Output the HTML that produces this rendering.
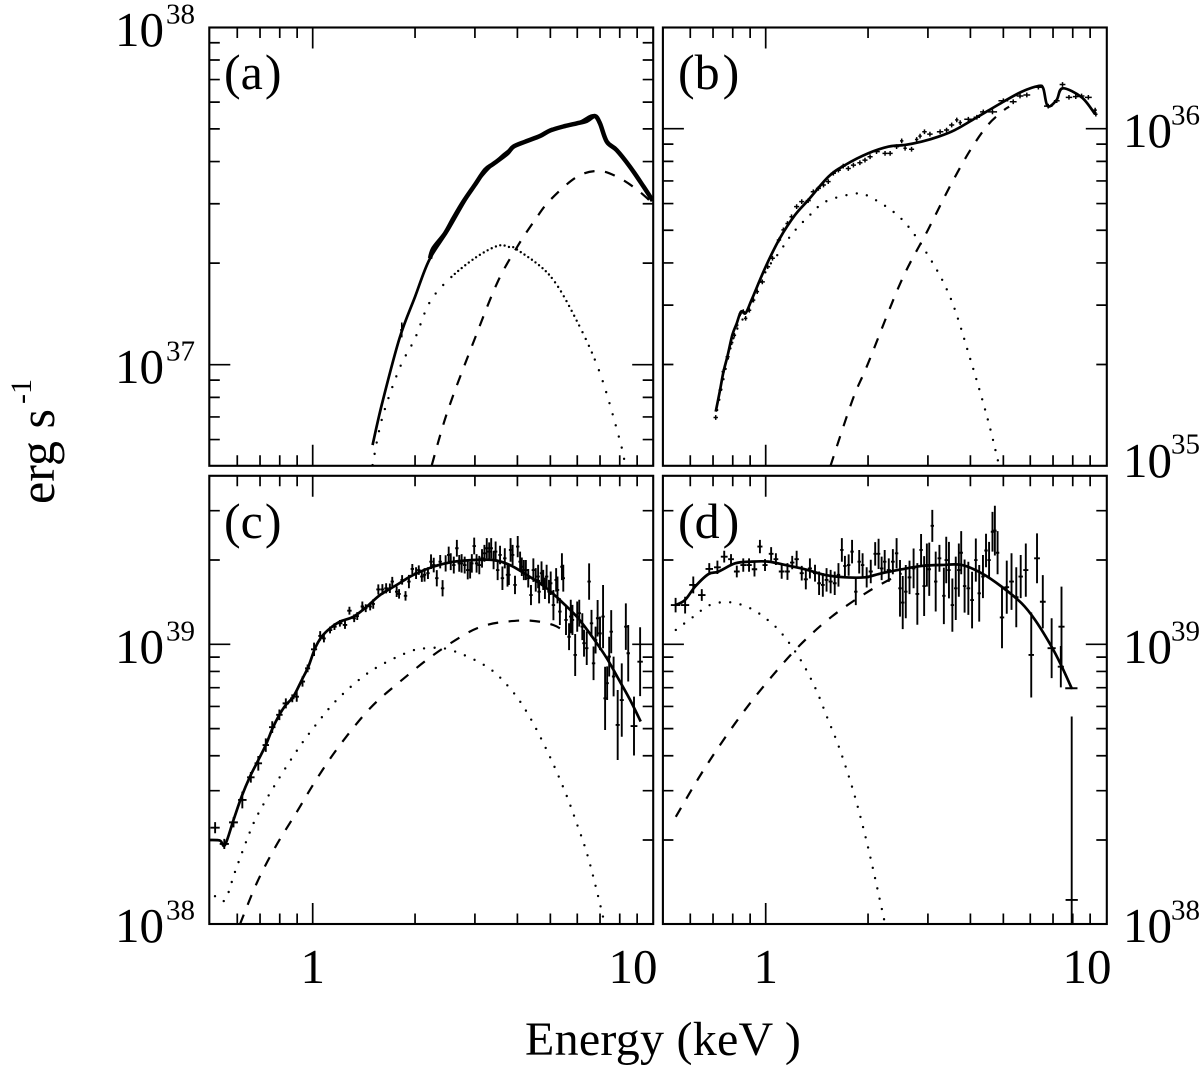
<!DOCTYPE html>
<html lang="en">
<head>
<meta charset="utf-8">
<title>X-ray spectra panels</title>
<style>
html,body{margin:0;padding:0;background:#fff}
svg{display:block}
text{font-family:"Liberation Serif","Times New Roman",serif;fill:#000}
.b{font-size:49px}
.e{font-size:29px}
.p{font-size:50px}
</style>
</head>
<body>
<svg id="chart" width="1200" height="1066" viewBox="0 0 1200 1066" xmlns="http://www.w3.org/2000/svg">
<rect x="0" y="0" width="1200" height="1066" fill="#fff"/>
<g id="plots"></g>

<g>
<g><text class="b" x="115" y="46">10</text><text class="e" x="166" y="23.5">38</text></g>
<g><text class="b" x="115" y="383">10</text><text class="e" x="166" y="360.5">37</text></g>
<g><text class="b" x="115" y="663">10</text><text class="e" x="166" y="640.5">39</text></g>
<g><text class="b" x="115" y="942">10</text><text class="e" x="166" y="919.5">38</text></g>
</g>
<g>
<g><text class="b" x="1123" y="147">10</text><text class="e" x="1171" y="124.5">36</text></g>
<g><text class="b" x="1123" y="477">10</text><text class="e" x="1171" y="453.5">35</text></g>
<g><text class="b" x="1123" y="663">10</text><text class="e" x="1171" y="640.5">39</text></g>
<g><text class="b" x="1123" y="942">10</text><text class="e" x="1171" y="919.5">38</text></g>
</g>
<g>
<text class="b" x="312.7" y="983" text-anchor="middle">1</text>
<text class="b" x="633" y="983" text-anchor="middle">10</text>
<text class="b" x="765.7" y="983" text-anchor="middle">1</text>
<text class="b" x="1087" y="983" text-anchor="middle">10</text>
</g>
<text x="525" y="1055" style="font-size:48px;letter-spacing:0.25px">Energy (keV )</text>
<g>
<text transform="translate(54 504) rotate(-90)" style="font-size:50px">erg s</text>
<text transform="translate(31 404) rotate(-90)" style="font-size:30px">-1</text>
</g>
<text class="p" x="224" y="89">(a<tspan dx="2">)</tspan></text>
<text class="p" x="678" y="89">(b<tspan dx="3">)</tspan></text>
<text class="p" x="224" y="538">(c<tspan dx="2">)</tspan></text>
<text class="p" x="678" y="538">(d<tspan dx="3">)</tspan></text>
</svg>

<script>
// ---------- shared tick values ----------
const xMinorTicks = [0.6,0.7,0.8,0.9,2,3,4,5,6,7,8,9];
const xMajorTicks = [1];
const aYTicks = [0.6,0.7,0.8,0.9,2,3,4,5,6,7,8,9];
const aYMajor = [1];
const bYTicks = [0.2,0.3,0.4,0.5,0.6,0.7,0.8,0.9];
const bYMajor = [1];
const cYTicks = [0.2,0.3,0.4,0.5,0.6,0.7,0.8,0.9,2,3];
const cYMajor = [1];

// ---------- panel (a): luminosity in units of 1e37 ----------
const aSolidE = [1.5,1.6,1.8,2,2.2,2.5,3,3.5,4,4.5,5,6,6.8,7.3,8,9,10];
const aSolidL = [0.578,0.768,1.197,1.59,2.04,2.5,3.41,4.05,4.49,4.70,4.94,5.2,5.46,4.60,4.24,3.6,3.06];
const aDotE = [1.5,1.6,1.8,2,2.2,2.5,3,3.5,3.8,4,5,6,7,8,8.3];
const aDotL = [0.504,0.693,0.975,1.197,1.52,1.78,2.07,2.25,2.23,2.19,1.83,1.34,0.943,0.598,0.504];
const aDotGapEdges = [2.5,5,6,6.7];
const aDashE = [2.24,2.5,3,3.5,4,4.5,5,6,7,8,9,10];
const aDashL = [0.504,0.734,1.197,1.76,2.24,2.68,3.08,3.61,3.75,3.57,3.30,3.01];
const aBandLogE = [0.345,0.355,0.389,0.414,0.443,0.477,0.507,0.531,0.571,0.590,0.625,0.669,0.698,0.737,0.776,0.806,0.830,0.845,0.865,0.894,0.933,0.973,1.0];
const aBandLogL = [0.315,0.345,0.389,0.434,0.483,0.533,0.577,0.595,0.625,0.646,0.661,0.678,0.694,0.706,0.715,0.723,0.737,0.715,0.661,0.636,0.587,0.528,0.486];
const aBarLogE = [0.262];
const aBarLogL = [0.103];
const aBarErr = [0.022];
const aBarBin = [0.005];

// ---------- panel (b): luminosity in units of 1e36 ----------
const bSolidE = [0.713,0.734,0.751,0.773,0.798,0.822,0.846,0.873,0.909,1,1.10,1.22,1.335,1.53,1.71,2,2.3,2.57,2.87,3.22,3.6,4.13,5,5.66,6.33,6.55,6.75,7.17,7.47,8.5,9.3];
const bSolidL = [0.145,0.168,0.190,0.213,0.245,0.265,0.287,0.284,0.311,0.390,0.473,0.555,0.615,0.721,0.780,0.845,0.885,0.895,0.915,0.947,0.991,1.073,1.202,1.287,1.338,1.317,1.167,1.216,1.317,1.239,1.105];
const bDotE = [0.72,0.8,0.9,1,1.1,1.2,1.35,1.5,1.8,2,2.5,3,3.5,4,4.5,4.86];
const bDotL = [0.1466,0.236,0.297,0.377,0.432,0.490,0.555,0.608,0.640,0.632,0.542,0.422,0.314,0.207,0.1375,0.1002];
const bDashE = [1.55,1.8,2,2.5,3,3.5,4,4.5,5,5.2];
const bDashL = [0.1,0.157,0.2015,0.352,0.501,0.681,0.865,1.025,1.131,1.162];
const bLogE = [-.147,-.134,-.125,-.112,-.100,-.092,-.085,-.075,-.066,-.059,-.048,-.036,-.025,-.010,.006,.020,.039,.052,.064,.076,.091,.106,.125,.140,.155,.170,.184,.199,.214,.228,.243,.258,.277,.292,.307,.326,.351,.366,.385,.400,.410,.429,.444,.454,.467,.483,.513,.532,.547,.562,.572,.596,.621,.640,.667,.699,.728,.748,.768,.802,.831,.856,.873,.892,.912,.929,.949,.969,.971];
const bLogL = [-.856,-.775,-.720,-.676,-.634,-.612,-.582,-.549,-.542,-.562,-.538,-.508,-.483,-.454,-.409,-.384,-.330,-.300,-.281,-.261,-.231,-.216,-.213,-.187,-.177,-.167,-.157,-.132,-.123,-.111,-.118,-.108,-.101,-.093,-.083,-.068,-.073,-.073,-.053,-.036,-.058,-.061,-.032,-.022,-.009,-.016,-.009,-.004,.011,.026,.018,.028,.034,.050,.050,.083,.080,.097,.100,.123,.067,.083,.131,.093,.095,.097,.093,.055,.043];
const bErrDex = 0.007;

// ---------- panel (c): luminosity in units of 1e39 ----------
const cSolidE = [0.499,0.534,0.552,0.585,0.618,0.654,0.692,0.728,0.762,0.798,0.833,0.877,0.929,0.971,1.016,1.063,1.124,1.203,1.318,1.442,1.578,1.767,1.977,2.265,2.59,2.97,3.40,3.80,4.26,4.88,5.46,5.98,6.69,7.33,8.01,8.58,9.22];
const cSolidL = [0.200,0.199,0.192,0.236,0.286,0.337,0.386,0.437,0.501,0.560,0.607,0.650,0.746,0.832,0.968,1.065,1.14,1.205,1.255,1.363,1.50,1.63,1.77,1.894,1.97,2.0,2.0,1.92,1.77,1.585,1.40,1.255,1.05,0.891,0.736,0.633,0.530];
const cDotE = [0.516,0.552,0.591,0.640,0.684,0.775,0.908,1.03,1.19,1.475,1.89,2.16,2.54,3.25,3.80,4.31,4.93,5.52,5.98,6.47,7.11,7.19];
const cDotL = [0.126,0.122,0.154,0.200,0.242,0.315,0.425,0.522,0.641,0.799,0.933,0.968,0.955,0.832,0.697,0.560,0.408,0.298,0.229,0.172,0.109,0.1];
const cDashE = [0.611,0.684,0.775,0.898,1.03,1.203,1.475,1.807,2.265,2.84,3.25,3.72,4.36,5.10,5.71];
const cDashL = [0.1,0.140,0.188,0.252,0.332,0.437,0.591,0.736,0.916,1.095,1.172,1.205,1.215,1.172,1.08];
const cLogE = [-.287,-.260,-.233,-.207,-.182,-.160,-.138,-.119,-.098,-.079,-.060,-.047,-.030,-.015,.004,.022,.033,.051,.064,.080,.095,.108,.122,.131,.146,.156,.169,.178,.193,.205,.216,.227,.234,.247,.254,.263,.273,.283,.293,.304,.312,.321,.329,.339,.348,.356,.365,.375,.382,.391,.400,.406,.415,.424,.431,.438,.447,.456,.463,.468,.475,.482,.490,.498,.505,.512,.519,.525,.532,.538,.544,.551,.558,.565,.573,.577,.582,.588,.595,.603,.610,.615,.621,.627,.634,.642,.649,.656,.663,.666,.673,.678,.683,.688,.695,.700,.708,.716,.720,.727,.733,.737,.745,.754,.759,.764,.772,.778,.784,.793,.798,.806,.813,.820,.826,.832,.838,.845,.854,.860,.866,.872,.878,.885,.897,.909,.921,.928];
const cLogL = [-.655,-.713,-.636,-.556,-.475,-.425,-.360,-.296,-.252,-.211,-.193,-.187,-.133,-.086,-.018,.030,.021,.051,.063,.075,.069,.120,.093,.101,.135,.129,.135,.144,.196,.196,.200,.200,.224,.188,.180,.230,.173,.224,.269,.254,.265,.242,.248,.254,.295,.283,.236,.295,.200,.289,.319,.295,.283,.343,.289,.289,.283,.265,.265,.289,.351,.289,.283,.307,.325,.343,.331,.343,.301,.331,.265,.319,.236,.307,.248,.248,.337,.319,.212,.349,.295,.277,.265,.265,.236,.176,.265,.230,.242,.188,.254,.230,.200,.242,.188,.218,.140,.230,.194,.117,.277,.236,.087,.027,.099,.087,-.038,.099,.111,.063,.004,-.014,.224,.075,-.068,.015,.093,.039,.099,-.193,-.139,-.044,.045,-.115,-.288,-.199,.063,-.032];
const cErr = [.020,.018,.018,.030,.019,.026,.024,.021,.019,.018,.014,.018,.018,.014,.024,.017,.014,.012,.012,.012,.014,.014,.014,.014,.018,.014,.014,.017,.018,.019,.018,.017,.017,.019,.017,.017,.017,.024,.018,.021,.017,.019,.024,.021,.026,.026,.029,.024,.029,.029,.030,.030,.030,.030,.030,.033,.030,.033,.030,.033,.030,.033,.033,.033,.030,.036,.033,.036,.033,.036,.036,.033,.042,.036,.042,.036,.042,.036,.033,.038,.036,.033,.036,.036,.033,.036,.042,.042,.042,.042,.042,.036,.038,.042,.042,.042,.054,.042,.048,.048,.048,.048,.054,.048,.060,.054,.075,.054,.048,.048,.048,.060,.065,.048,.060,.048,.065,.060,.113,.113,.060,.071,.077,.071,.125,.131,.083,.101];
const cWideLogE = [.945,.963];
const cWideLogL = [-.292,-.062];
const cWideErr = [.105,.123];
const cWideBin = [.010,.008];

// ---------- panel (d): luminosity in units of 1e39 ----------
const dSolidE = [0.544,0.579,0.620,0.678,0.726,0.813,0.910,1.018,1.14,1.305,1.495,1.711,1.96,2.19,2.51,2.88,3.29,3.77,4.32,4.94,5.66,6.2,6.93,7.43,7.94];
const dSolidL = [1.382,1.44,1.607,1.78,1.818,1.946,1.974,1.974,1.92,1.853,1.769,1.735,1.735,1.793,1.853,1.905,1.92,1.92,1.793,1.607,1.401,1.221,0.981,0.832,0.697];
const dDotE = [0.544,0.613,0.686,0.785,0.90,1.014,1.12,1.267,1.403,1.52,1.643,1.8,1.94,2.07,2.24];
const dDotL = [1.125,1.255,1.382,1.413,1.345,1.221,1.086,0.879,0.693,0.544,0.429,0.306,0.219,0.157,0.1014];
const dDashE = [0.544,0.634,0.734,0.869,1.041,1.262,1.563,2.0,2.51];
const dDashL = [0.242,0.332,0.437,0.583,0.766,0.994,1.255,1.542,1.793];
const dLogE = [-.265,-.237,-.213,-.188,-.166,-.142,-.122,-.102,-.085,-.066,-.049,-.033,-.017,-.002,.016,.030,.047,.064,.078,.091,.106,.118,.130,.145,.157,.168,.179,.191,.203,.214,.224,.233,.244,.254,.265,.275,.285,.297,.309,.322,.332,.341,.350,.362,.374,.385,.395,.403,.412,.423,.435,.446,.457,.466,.474,.481,.490,.500,.511,.524,.531,.539,.549,.559,.568,.575,.585,.596,.607,.618,.628,.639,.648,.657,.667,.674,.682,.695,.709,.723,.737,.750,.765,.781,.798,.815];
const dLogL = [.140,.140,.212,.176,.269,.275,.313,.304,.260,.283,.283,.268,.349,.283,.323,.304,.260,.260,.292,.304,.254,.232,.271,.254,.218,.212,.230,.224,.218,.248,.337,.280,.283,.331,.188,.295,.283,.239,.260,.323,.323,.271,.295,.265,.295,.325,.200,.149,.188,.239,.271,.180,.337,.208,.283,.268,.423,.224,.307,.173,.301,.265,.140,.200,.265,.327,.208,.200,.158,.301,.182,.242,.335,.301,.402,.406,.327,.096,.204,.224,.168,.242,.265,-.038,.307,.152];
const dErr = [.026,.030,.030,.021,.021,.024,.021,.018,.021,.024,.024,.026,.024,.021,.024,.021,.026,.030,.024,.030,.026,.036,.036,.030,.042,.042,.042,.042,.042,.042,.042,.036,.038,.042,.048,.042,.042,.036,.042,.042,.054,.042,.042,.042,.045,.054,.101,.095,.095,.060,.071,.110,.057,.107,.077,.095,.057,.107,.048,.101,.083,.101,.095,.113,.095,.077,.095,.095,.101,.077,.101,.077,.060,.065,.071,.089,.077,.110,.095,.101,.107,.077,.095,.152,.089,.095];
const dWideLogE = [.841,.868,.870,.899,.900];
const dWideLogL = [-.014,-.080,.063,-.157,-.913];
const dWideErr = [.107,.074,.143,.004,.655];
const dWideBin = [.012,.009,.009,.018,.018];

// ---------- layout ----------
const svgNS = 'http://www.w3.org/2000/svg';
const plots = document.getElementById('plots');
const X_DECADE = 340;
const panelA = {id:'a', left:209.3, right:653.2, top:27.5, bottom:465.8, xOne:312.7, yRef:364.7, yDecade:337.4};
const panelB = {id:'b', left:662.9, right:1106.8, top:27.5, bottom:465.8, xOne:765.7, yRef:128.7, yDecade:337.4};
const panelC = {id:'c', left:209.3, right:653.2, top:475.8, bottom:924.0, xOne:312.7, yRef:644.3, yDecade:280};
const panelD = {id:'d', left:662.9, right:1106.8, top:475.8, bottom:924.0, xOne:765.7, yRef:644.3, yDecade:280};

function xFromLog(p, logE){ return p.xOne + X_DECADE * logE; }
function yFromLog(p, logL){ return p.yRef - p.yDecade * logL; }
function xScale(p, E){ return xFromLog(p, Math.log10(E)); }
function yScale(p, L){ return yFromLog(p, Math.log10(L)); }

function smoothPath(pts){
  let d = 'M' + pts[0][0].toFixed(2) + ' ' + pts[0][1].toFixed(2);
  for (let i = 0; i < pts.length - 1; i++){
    const p0 = pts[Math.max(0, i - 1)], p1 = pts[i], p2 = pts[i + 1], p3 = pts[Math.min(pts.length - 1, i + 2)];
    const c1x = p1[0] + (p2[0] - p0[0]) / 6, c1y = p1[1] + (p2[1] - p0[1]) / 6;
    const c2x = p2[0] - (p3[0] - p1[0]) / 6, c2y = p2[1] - (p3[1] - p1[1]) / 6;
    d += 'C' + c1x.toFixed(2) + ' ' + c1y.toFixed(2) + ' ' + c2x.toFixed(2) + ' ' + c2y.toFixed(2) + ' ' + p2[0].toFixed(2) + ' ' + p2[1].toFixed(2);
  }
  return d;
}

function setupPanel(p){
  const g = document.createElementNS(svgNS, 'g');
  
  
  plots.appendChild(g);
  const clip = document.createElementNS(svgNS, 'clipPath');
  clip.setAttribute('id', 'clip-' + p.id);
  const r = document.createElementNS(svgNS, 'rect');
  r.setAttribute('x', p.left);
  r.setAttribute('y', p.top);
  r.setAttribute('width', p.right - p.left);
  r.setAttribute('height', p.bottom - p.top);
  clip.appendChild(r);
  g.appendChild(clip);
  const inner = document.createElementNS(svgNS, 'g');
  inner.setAttribute('clip-path', 'url(#clip-' + p.id + ')');
  
  
  g.appendChild(inner);
  p.g = g;
  p.inner = inner;
}

function drawModel(p, Es, Ls, kind, gap, label){
  const pts = Es.map((E, i) => [xScale(p, E), yScale(p, Ls[i])]);
  const el = document.createElementNS(svgNS, 'path');
  
  
  el.setAttribute('d', smoothPath(pts));
  el.setAttribute('fill', 'none');
  el.setAttribute('stroke', '#000');
  if (kind === 'solid'){ el.setAttribute('stroke-width', '2.7'); el.setAttribute('stroke-linejoin', 'round'); }
  if (kind === 'dash'){ el.setAttribute('stroke-width', '2.2'); el.setAttribute('stroke-dasharray', '10.5 10.5'); }
  if (kind === 'dot'){ el.setAttribute('stroke-width', '2.4'); el.setAttribute('stroke-linecap', 'round'); el.setAttribute('stroke-dasharray', '0 ' + gap); }
  p.inner.appendChild(el);
  return el;
}

// One continuous dotted curve whose dot spacing changes with energy.
function drawVariableDots(p, Es, Ls, edges, gaps, label){
  const el = drawModel(p, Es, Ls, 'dot', gaps[0], label);
  const total = el.getTotalLength();
  const pattern = [];
  let s = 0;
  while (s < total){
    const pt = el.getPointAtLength(s);
    const E = Math.pow(10, (pt.x - p.xOne) / X_DECADE);
    let k = 0;
    while (k < edges.length && E > edges[k]) k++;
    pattern.push(0, gaps[k]);
    s += gaps[k];
  }
  el.setAttribute('stroke-dasharray', pattern.join(' '));
}

function drawBand(p, logE, logL, width, label){
  const pts = logE.map((v, i) => [xFromLog(p, v), yFromLog(p, logL[i])]);
  const el = document.createElementNS(svgNS, 'path');
  
  
  el.setAttribute('d', smoothPath(pts));
  el.setAttribute('fill', 'none');
  el.setAttribute('stroke', '#000');
  el.setAttribute('stroke-width', width);
  el.setAttribute('stroke-linejoin', 'round');
  p.inner.appendChild(el);
}

function binFromSpacing(logE, i){
  const prev = i > 0 ? logE[i] - logE[i - 1] : Infinity;
  const next = i < logE.length - 1 ? logE[i + 1] - logE[i] : Infinity;
  return Math.max(0.005, Math.min(prev, next) / 2);
}

function drawBars(p, logE, logL, errs, bins, label, sw){
  logE.forEach((v, i) => {
    const x = xFromLog(p, v), y = yFromLog(p, logL[i]);
    const err = Array.isArray(errs) ? errs[i] : errs;
    const bin = bins ? bins[i] : binFromSpacing(logE, i);
    const el = document.createElementNS(svgNS, 'path');
    
    
    const y1 = yFromLog(p, logL[i] + err), y2 = yFromLog(p, logL[i] - err);
    const x1 = xFromLog(p, v - bin), x2 = xFromLog(p, v + bin);
    el.setAttribute('d', 'M' + x.toFixed(2) + ' ' + y1.toFixed(2) + 'V' + y2.toFixed(2) + 'M' + x1.toFixed(2) + ' ' + y.toFixed(2) + 'H' + x2.toFixed(2));
    el.setAttribute('fill', 'none');
    el.setAttribute('stroke', '#000');
    el.setAttribute('stroke-width', sw);
    p.inner.appendChild(el);
  });
}

function drawFrame(p, yMinor, yMajor){
  const minorLen = 10.5, majorLen = 21;
  let d = '';
  xMinorTicks.forEach(E => {
    const x = xScale(p, E).toFixed(2);
    d += 'M' + x + ' ' + p.top + 'v' + minorLen + 'M' + x + ' ' + p.bottom + 'v' + (-minorLen);
  });
  xMajorTicks.forEach(E => {
    const x = xScale(p, E).toFixed(2);
    d += 'M' + x + ' ' + p.top + 'v' + majorLen + 'M' + x + ' ' + p.bottom + 'v' + (-majorLen);
  });
  yMinor.forEach(L => {
    const y = yScale(p, L).toFixed(2);
    d += 'M' + p.left + ' ' + y + 'h' + minorLen + 'M' + p.right + ' ' + y + 'h' + (-minorLen);
  });
  yMajor.forEach(L => {
    const y = yScale(p, L).toFixed(2);
    d += 'M' + p.left + ' ' + y + 'h' + majorLen + 'M' + p.right + ' ' + y + 'h' + (-majorLen);
  });
  const ticks = document.createElementNS(svgNS, 'path');
  
  
  ticks.setAttribute('d', d);
  ticks.setAttribute('stroke', '#000');
  ticks.setAttribute('stroke-width', '1.7');
  ticks.setAttribute('fill', 'none');
  p.g.appendChild(ticks);
  const frame = document.createElementNS(svgNS, 'rect');
  
  
  frame.setAttribute('x', p.left);
  frame.setAttribute('y', p.top);
  frame.setAttribute('width', p.right - p.left);
  frame.setAttribute('height', p.bottom - p.top);
  frame.setAttribute('fill', 'none');
  frame.setAttribute('stroke', '#000');
  frame.setAttribute('stroke-width', '2.1');
  p.g.appendChild(frame);
}

// ---------- panel a ----------
setupPanel(panelA);
drawModel(panelA, aSolidE, aSolidL, 'solid', 0, 'panel-a-total-model');
drawBand(panelA, aBandLogE, aBandLogL, 4.5, 'panel-a-data-band');
drawBars(panelA, aBarLogE, aBarLogL, aBarErr, aBarBin, 'panel-a-data-point', 1.6);
drawVariableDots(panelA, aDotE, aDotL, aDotGapEdges, [11.5, 4.5, 5.5, 7.5, 11.5], 'panel-a-disk-component');
drawModel(panelA, aDashE, aDashL, 'dash', 0, 'panel-a-power-component');
drawFrame(panelA, aYTicks, aYMajor);

// ---------- panel b ----------
setupPanel(panelB);
drawBars(panelB, bLogE, bLogL, bErrDex, null, 'panel-b-data-point', 1.5);
drawModel(panelB, bSolidE, bSolidL, 'solid', 0, 'panel-b-total-model');
drawModel(panelB, bDotE, bDotL, 'dot', 10.5, 'panel-b-disk-component');
drawModel(panelB, bDashE, bDashL, 'dash', 0, 'panel-b-power-component');
drawFrame(panelB, bYTicks, bYMajor);

// ---------- panel c ----------
setupPanel(panelC);
drawBars(panelC, cLogE, cLogL, cErr, null, 'panel-c-data-point', 1.9);
drawBars(panelC, cWideLogE, cWideLogL, cWideErr, cWideBin, 'panel-c-data-point', 1.9);
drawModel(panelC, cSolidE, cSolidL, 'solid', 0, 'panel-c-total-model');
drawModel(panelC, cDotE, cDotL, 'dot', 10.5, 'panel-c-disk-component');
drawModel(panelC, cDashE, cDashL, 'dash', 0, 'panel-c-power-component');
drawFrame(panelC, cYTicks, cYMajor);

// ---------- panel d ----------
setupPanel(panelD);
drawBars(panelD, dLogE, dLogL, dErr, null, 'panel-d-data-point', 1.9);
drawBars(panelD, dWideLogE, dWideLogL, dWideErr, dWideBin, 'panel-d-data-point', 1.9);
drawModel(panelD, dSolidE, dSolidL, 'solid', 0, 'panel-d-total-model');
drawModel(panelD, dDotE, dDotL, 'dot', 10.5, 'panel-d-disk-component');
drawModel(panelD, dDashE, dDashL, 'dash', 0, 'panel-d-power-component');
drawFrame(panelD, cYTicks, cYMajor);
</script>
</body>
</html>
